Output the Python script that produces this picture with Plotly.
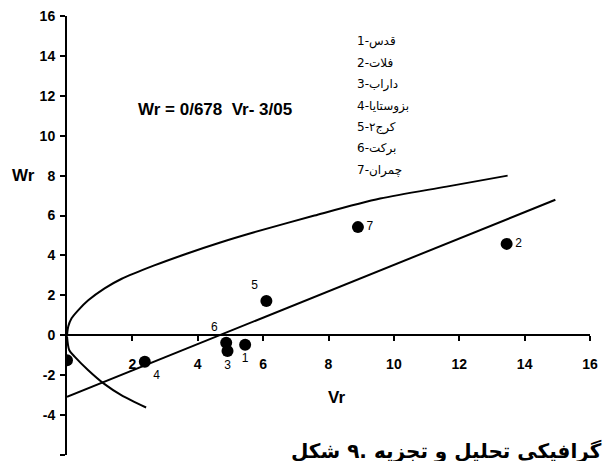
import plotly.graph_objects as go

# Genotype points (Vr, Wr)
point_labels = ["1", "2", "3", "4", "5", "6", "7"]
vr_points = [5.45, 13.45, 4.91, 2.38, 6.10, 4.87, 8.90]
wr_points = [-0.47, 4.58, -0.79, -1.33, 1.72, -0.37, 5.42]
label_pos = ["bottom center", "middle right", "bottom center", "bottom right",
             "top left", "top left", "middle right"]

# Point sitting on the Wr axis
vr_axis_point = [0.0]
wr_axis_point = [-1.25]

# Regression line  Wr = 0.678 Vr - 3.05 (drawn end points as read)
vr_reg = [0.0, 14.94]
wr_reg = [-3.08, 6.79]

# Limiting parabola, upper branch
vr_up = [0.0, 0.04, 0.14, 0.34, 0.65, 1.15, 1.66, 2.67, 3.68, 4.69, 5.70, 7.57, 9.58, 11.61, 13.48]
wr_up = [0.0, 0.45, 0.85, 1.25, 1.75, 2.35, 2.82, 3.50, 4.10, 4.65, 5.15, 6.00, 6.85, 7.45, 8.00]

# Limiting parabola, lower branch
vr_low = [0.0, 0.07, 0.24, 0.65, 1.15, 1.66, 2.42]
wr_low = [-0.05, -0.75, -1.08, -1.75, -2.45, -3.00, -3.62]

legend_items = ["1-قدس", "2-فلات", "3-داراب", "4-بزوستایا", "5-کرج۲", "6-برکت", "7-چمران"]
equation = "Wr = 0/678\u00a0\u00a0Vr- 3/05"
# caption tokens in the left-to-right order in which they appear on the figure
caption_words = ["شکل", ".۹", "تجزیه", "و", "تحلیل", "گرافیکی", "صفت", "عملکرد"]

x_ticks = [2, 4, 6, 8, 10, 12, 14, 16]
y_ticks = [-6, -4, -2, 0, 2, 4, 6, 8, 10, 12, 14, 16]

FONT = "Liberation Sans, Arial, sans-serif"
AR_FONT = "DejaVu Sans, Noto Sans, sans-serif"

fig = go.Figure()
line_style = dict(color="black", width=2, shape="spline", smoothing=0.8)
fig.add_trace(go.Scatter(x=vr_up, y=wr_up, mode="lines", line=line_style, hoverinfo="skip"))
fig.add_trace(go.Scatter(x=vr_low, y=wr_low, mode="lines", line=line_style, hoverinfo="skip"))
fig.add_trace(go.Scatter(x=vr_reg, y=wr_reg, mode="lines", line=dict(color="black", width=2),
                         hoverinfo="skip"))
fig.add_trace(go.Scatter(x=vr_axis_point, y=wr_axis_point, mode="markers",
                         marker=dict(color="black", size=12), cliponaxis=True))
fig.add_trace(go.Scatter(x=vr_points, y=wr_points, mode="markers+text",
                         text=point_labels, textposition=label_pos,
                         textfont=dict(family=FONT, size=12, color="black"),
                         marker=dict(color="black", size=12), cliponaxis=False))

fig.update_layout(
    width=604, height=461,
    margin=dict(l=67, r=9, t=16, b=6),
    paper_bgcolor="white", plot_bgcolor="white",
    showlegend=False,
    xaxis=dict(range=[0, 16], tickvals=x_ticks, ticktext=[str(v) for v in x_ticks],
               showgrid=False, zeroline=False, showline=True, linecolor="black", linewidth=2,
               ticks="outside", ticklen=5, tickwidth=2, tickcolor="black",
               anchor="free", position=6 / 22, ticklabelstandoff=11,
               tickfont=dict(family=FONT, size=14, color="black", weight="bold")),
    yaxis=dict(range=[-6, 16], tickvals=y_ticks, ticktext=[str(v) for v in y_ticks],
               showgrid=False, zeroline=False, showline=True, linecolor="black", linewidth=2,
               ticks="outside", ticklen=5, tickwidth=2, tickcolor="black",
               ticklabelstandoff=2,
               tickfont=dict(family=FONT, size=14, color="black", weight="bold")),
)

ann = []
ann.append(dict(text="Wr", xref="paper", yref="y", x=-0.057, y=8, xanchor="right", yanchor="middle",
                showarrow=False, font=dict(family=FONT, size=17, color="black", weight="bold")))
ann.append(dict(text="Vr", xref="x", yref="y", x=8.25, y=-3.1, xanchor="center", yanchor="middle",
                showarrow=False, font=dict(family=FONT, size=17, color="black", weight="bold")))
ann.append(dict(text=equation, xref="x", yref="y", x=2.1, y=11.3, xanchor="left", yanchor="middle",
                showarrow=False, font=dict(family=FONT, size=17, color="black", weight="bold")))
for i, item in enumerate(legend_items):
    ann.append(dict(text=item, xref="x", yref="y", x=8.8, y=14.7 - i * 1.07,
                    xanchor="left", yanchor="middle", showarrow=False,
                    font=dict(family=AR_FONT, size=12, color="black")))
# a single right-to-left run: the token given last in the string is drawn leftmost
caption = " ".join(reversed(caption_words))
ann.append(dict(text=caption, xref="paper", yref="paper", x=0.424, y=0.008,
                xanchor="left", yanchor="middle", showarrow=False,
                font=dict(family=AR_FONT, size=20, color="black", weight="bold")))
fig.update_layout(annotations=ann)

fig.write_html("out.html", config={"displayModeBar": False},
               post_script="document.body.style.margin='0';")
